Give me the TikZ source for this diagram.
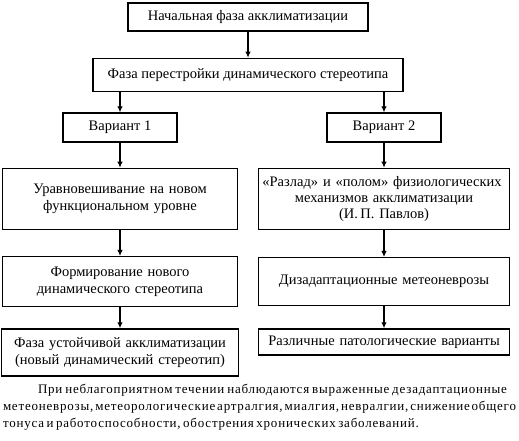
\documentclass[tikz,border=0pt]{standalone}
\usepackage{fontspec}
\setmainfont{Liberation Serif}
\newfontfamily\notefont[LetterSpace=6]{Liberation Serif}
\usetikzlibrary{arrows.meta, positioning}

\begin{document}
\begin{tikzpicture}[
  font=\fontsize{14.5}{17}\selectfont,
  >={Latex[length=6pt, width=5.5pt]},
  every node/.style={align=center},
  phase/.style={rectangle, draw=black, line width=1.3pt, inner sep=2pt},
  stagebox/.style={phase, text width=#1},
  arr/.style={->, line width=1.1pt},
]
\useasboundingbox (0,0) rectangle (519pt,-440pt);

% ---------- top of the chain ----------
\node[phase, minimum width=240pt, minimum height=28pt] (start) at (248pt,-17pt)
  {Начальная фаза акклиматизации};
\node[phase, below=26pt of start, minimum width=310pt, minimum height=33pt] (rebuild)
  {Фаза перестройки динамического стереотипа};

% ---------- two variants ----------
\node[phase, minimum width=114pt, minimum height=29pt] (var1) at (120pt,-127.5pt) {Вариант 1};
\node[phase, minimum width=114pt, minimum height=29pt] (var2) at (384pt,-127.5pt) {Вариант 2};

% left column
\node[stagebox=231pt, minimum height=61pt, below=25pt of var1] (balance)
  {Уравновешивание на новом\\ функциональном уровне};
\node[stagebox=231pt, minimum height=50pt, below=26pt of balance] (newstereo)
  {Формирование нового\\ динамического стереотипа};
\node[stagebox=233pt, minimum height=47pt, below=21pt of newstereo] (stable)
  {Фаза устойчивой акклиматизации\\ (новый динамический стереотип)};

% right column
\node[stagebox=247pt, minimum height=61pt, below=25pt of var2, inner sep=2pt,
      font=\fontsize{14.5}{16}\selectfont] (breakdown)
  {\hspace*{-4pt}«Разлад» и «полом» физиологических\hspace*{-4pt}\\ механизмов акклиматизации\\ (И.\,П. Павлов)};
\node[stagebox=247pt, minimum height=48pt, below=27pt of breakdown] (neuroses)
  {Дизадаптационные метеоневрозы};
\node[stagebox=247pt, minimum height=26pt, below=22pt of neuroses] (patho)
  {Различные патологические варианты};

% ---------- arrows ----------
\draw[arr] (start) -- (rebuild);
\draw[arr] (rebuild.south -| var1) -- (var1);
\draw[arr] (rebuild.south -| var2) -- (var2);
\draw[arr] (var1) -- (balance);
\draw[arr] (balance) -- (newstereo);
\draw[arr] (newstereo) -- (stable);
\draw[arr] (var2) -- (breakdown);
\draw[arr] (breakdown) -- (neuroses);
\draw[arr] (neuroses) -- (patho);

% ---------- note below ----------
\node[text width=513pt, align=justify, font=\notefont\fontsize{13}{17}\selectfont] (note) at (259.5pt,-407pt)
  {\spaceskip=2.5pt plus 6pt minus 1.5pt
  \noindent\hspace*{35pt}При неблагоприятном течении наблюдаются выраженные дезадаптационные\hspace*{9pt}\linebreak
  метеоневрозы, метеорологические артралгия, миалгия, невралгии, снижение общего\linebreak
  тонуса и работоспособности, обострения хронических заболеваний.};

\end{tikzpicture}
\end{document}
